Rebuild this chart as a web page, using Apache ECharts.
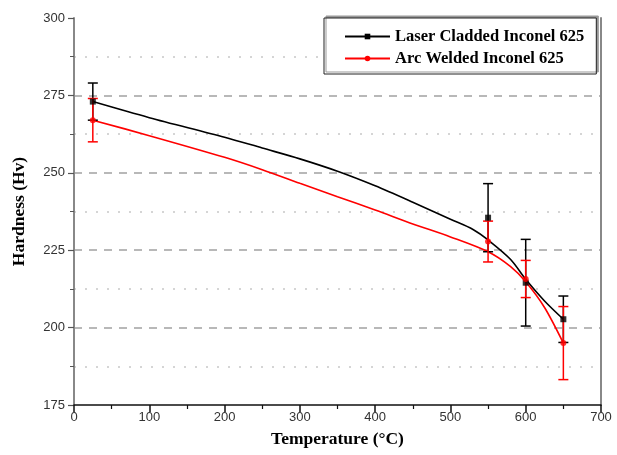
<!DOCTYPE html>
<html><head><meta charset="utf-8">
<script src="https://cdn.jsdelivr.net/npm/echarts@6/dist/echarts.min.js"></script>
<style>html,body{margin:0;padding:0;background:#fff}#c{width:617px;height:455px}</style>
</head><body><div id="c"></div>
<script>
// Measured points (temperature, mean hardness, error)
const pointTemps = [25, 550, 600, 650];
const laserMean = [273, 235.5, 214.5, 202.7];
const laserErr = [6, 11, 14, 7.5];
const arcMean = [267, 227.8, 215.7, 195];
const arcErr = [7, 6.6, 6, 11.8];
// Fitted curves
const laserCurveT = [25, 100, 200, 250, 300, 350, 400, 450, 500, 530, 550, 580, 600, 625, 650];
const laserCurveH = [273, 267.8, 261.5, 258, 254.5, 250.5, 245.8, 240.5, 235, 231.7, 228.3, 222, 215.6, 208.6, 202.7];
const arcCurveT = [25, 100, 200, 250, 300, 350, 400, 450, 500, 550, 580, 600, 625, 650];
const arcCurveH = [267, 262, 255, 251, 246.6, 242.3, 238, 233.5, 229.3, 224.5, 219.7, 214.8, 206.5, 195];
const yTicks = [175, 200, 225, 250, 275, 300];
const xTicks = [0, 100, 200, 300, 400, 500, 600, 700];
const names = ['Laser Cladded Inconel 625', 'Arc Welded Inconel 625'];

const zip = (a, b) => a.map((v, i) => [v, b[i]]);
const errData = (m, e) => pointTemps.map((t, i) => [t, m[i] - e[i], m[i] + e[i]]);

function errBar(color) {
  return function (params, api) {
    const x = api.value(0), lo = api.value(1), hi = api.value(2);
    const p1 = api.coord([x, hi]), p2 = api.coord([x, lo]);
    const w = 5;
    const st = { stroke: color, lineWidth: 1.5 };
    return { type: 'group', children: [
      { type: 'line', shape: { x1: p1[0], y1: p1[1], x2: p2[0], y2: p2[1] }, style: st },
      { type: 'line', shape: { x1: p1[0] - w, y1: p1[1], x2: p1[0] + w, y2: p1[1] }, style: st },
      { type: 'line', shape: { x1: p2[0] - w, y1: p2[1], x2: p2[0] + w, y2: p2[1] }, style: st }
    ]};
  };
}

const chart = echarts.init(document.getElementById('c'), null, { renderer: 'canvas' });
const gridCol = '#b8b8b8';
chart.setOption({
  animation: false,
  backgroundColor: '#fff',
  grid: { left: 74, right: 16, top: 18, bottom: 50 },
  legend: {
    data: names,
    orient: 'vertical',
    left: 324, top: 18,
    padding: [10, 12, 7, 20],
    itemWidth: 45, itemHeight: 7, itemGap: 5,
    backgroundColor: '#fff',
    borderColor: '#222', borderWidth: 1,
    shadowColor: '#999', shadowOffsetX: 2, shadowOffsetY: -2, shadowBlur: 0,
    textStyle: { fontFamily: 'Liberation Serif', fontWeight: 'bold', fontSize: 16.5, color: '#000' }
  },
  xAxis: {
    type: 'value', min: 0, max: 700, interval: 100,
    name: 'Temperature (°C)', nameLocation: 'middle', nameGap: 25,
    nameTextStyle: { fontFamily: 'Liberation Serif', fontWeight: 'bold', fontSize: 17.5, color: '#000' },
    axisLine: { show: true, onZero: false, lineStyle: { color: '#111', width: 1.5 } },
    axisTick: { show: true, inside: false, length: 7, lineStyle: { color: '#111', width: 1.5 } },
    minorTick: { show: true, splitNumber: 2, length: 4, lineStyle: { color: '#111', width: 1.2 } },
    axisLabel: { fontFamily: 'Liberation Sans', fontSize: 13, color: '#333', margin: 6 },
    splitLine: { show: false }
  },
  yAxis: [{
    type: 'value', min: 175, max: 300, interval: 25,
    name: 'Hardness (Hv)', nameLocation: 'middle', nameGap: 46, nameRotate: 90,
    nameTextStyle: { fontFamily: 'Liberation Serif', fontWeight: 'bold', fontSize: 17.5, color: '#000' },
    axisLine: { show: true, lineStyle: { color: '#888', width: 2 } },
    axisTick: { show: true, inside: false, length: 6, lineStyle: { color: '#555', width: 1.2 } },
    minorTick: { show: true, splitNumber: 2, length: 4, lineStyle: { color: '#555', width: 1 } },
    axisLabel: { fontFamily: 'Liberation Sans', fontSize: 13, color: '#333', margin: 9 },
    splitLine: { show: true, lineStyle: { color: ['rgba(0,0,0,0)', gridCol, gridCol, gridCol, gridCol, 'rgba(0,0,0,0)'], type: [8, 7], width: 2 } },
    minorSplitLine: { show: true, lineStyle: { color: '#c8c8c8', type: [2, 9], width: 1.5 } }
  }, {
    type: 'value', min: 175, max: 300, interval: 25, position: 'right',
    axisLine: { show: true, lineStyle: { color: '#888', width: 2 } },
    axisTick: { show: false }, axisLabel: { show: false }, splitLine: { show: false }
  }],
  series: [
    {
      name: names[0], type: 'line', smooth: 0.3, data: zip(laserCurveT, laserCurveH),
      symbol: 'rect', symbolSize: 6, showSymbol: false,
      lineStyle: { color: '#000', width: 1.6 }, itemStyle: { color: '#000' }, z: 3
    },
    {
      name: names[1], type: 'line', smooth: 0.3, data: zip(arcCurveT, arcCurveH),
      symbol: 'circle', symbolSize: 6, showSymbol: false,
      lineStyle: { color: '#ff0000', width: 1.6 }, itemStyle: { color: '#ff0000' }, z: 3
    },
    { name: 'laserErr', type: 'custom', renderItem: errBar('#000'), data: errData(laserMean, laserErr), z: 4, encode: { x: 0, y: [1, 2] } },
    { name: 'arcErr', type: 'custom', renderItem: errBar('#ff0000'), data: errData(arcMean, arcErr), z: 5, encode: { x: 0, y: [1, 2] } },
    { name: 'laserPts', type: 'scatter', symbol: 'rect', symbolSize: 6, data: zip(pointTemps, laserMean), itemStyle: { color: '#000' }, z: 6 },
    { name: 'arcPts', type: 'scatter', symbol: 'circle', symbolSize: 6, data: zip(pointTemps, arcMean), itemStyle: { color: '#ff0000' }, z: 6 }
  ]
});
</script></body></html>
